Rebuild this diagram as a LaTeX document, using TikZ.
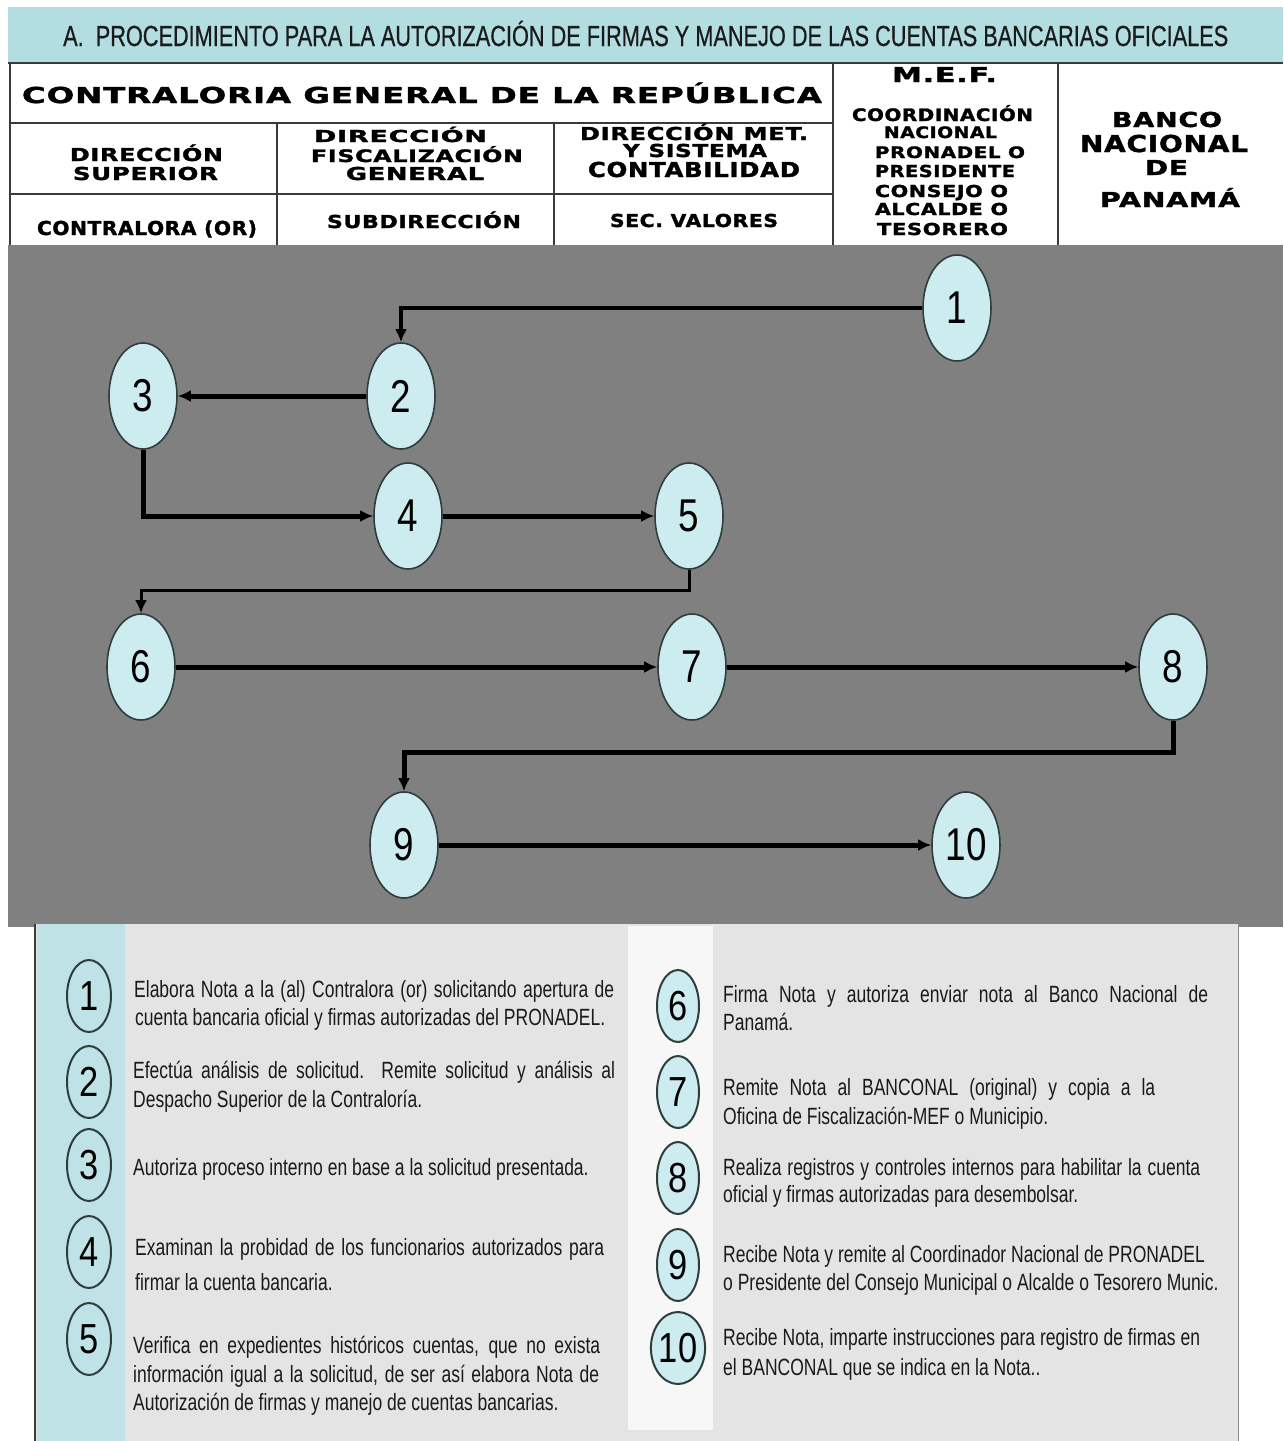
\documentclass[tikz,border=0pt]{standalone}
\usepackage{fontspec}
\usepackage{graphicx}
\setmainfont{Liberation Sans}
\newfontfamily\legfont[FakeStretch=0.745]{Liberation Sans}
\newfontfamily\numfont[FakeStretch=0.8]{Liberation Sans}
\newfontfamily\lnumfont[FakeStretch=0.82]{Liberation Sans}
\newfontfamily\hdrfont[LetterSpace=3,FakeBold=1.6]{DejaVu Sans Bold}
\newfontfamily\titlefont[FakeBold=0.6]{Liberation Sans}
\usetikzlibrary{shapes.geometric,arrows.meta}
\newcommand{\fitbox}[3]{\resizebox{#1}{#2}{\smash{#3}\vphantom{H}}}
\definecolor{bandblue}{HTML}{B2DEE1}
\definecolor{flowgrey}{HTML}{808080}
\definecolor{nodefill}{HTML}{CDECEF}
\definecolor{nodeline}{HTML}{2F3D3D}
\definecolor{panelbg}{HTML}{E4E4E4}
\definecolor{stripblue}{HTML}{BEE2E5}
\definecolor{tblline}{HTML}{3A3A3A}
\definecolor{txt}{HTML}{1A1A1A}
\tikzset{
  tbl/.style={draw=tblline, line width=1.5pt},
  hdr/.style={anchor=base, inner sep=0pt, font=\hdrfont, text=black},
  flownode/.style={ellipse, draw=nodeline, line width=1.6pt, fill=nodefill,
    minimum width=68pt, minimum height=106pt, inner sep=0pt,
    font=\numfont\fontsize{46}{46}\selectfont, text=black},
  conn/.style={draw=black, line width=5pt, -{Latex[length=13pt,width=12pt]}},
  legcirc/.style={ellipse, draw=nodeline, line width=2pt, minimum width=44pt,
    minimum height=72pt, inner sep=0pt, font=\lnumfont\fontsize{42}{42}\selectfont, text=black},
  legcircb/.style={legcirc, fill=nodefill, minimum width=42pt},
  leg/.style={anchor=base west, inner sep=0pt, font=\legfont\fontsize{23.5}{28}\selectfont, text=txt}
}
\begin{document}
\begin{tikzpicture}[x=1pt,y=-1pt]
\useasboundingbox (0,0) rectangle (1283,1441);
\fill[white] (0,0) rectangle (1283,1441);
% title band
\fill[bandblue] (8,7) rectangle (1283,62);
\node[anchor=base west, inner sep=0pt, font=\titlefont\fontsize{28}{28}\selectfont, text=txt] (title) at (63,46)
  {\fitbox{1165pt}{20pt}{A.\ \ PROCEDIMIENTO PARA LA AUTORIZACIÓN DE FIRMAS Y MANEJO DE LAS CUENTAS BANCARIAS OFICIALES}};
% header table
\draw[tbl] (8,63) -- (1283,63);
\draw[tbl] (10,63) -- (10,245);
\draw[tbl] (833,63) -- (833,245);
\draw[tbl] (1058,63) -- (1058,245);
\draw[tbl] (10,123) -- (833,123);
\draw[tbl] (10,194) -- (833,194);
\draw[tbl] (277,123) -- (277,245);
\draw[tbl] (554,123) -- (554,245);
\node[hdr] (hcgr) at (422,103) {\fitbox{800pt}{16pt}{CONTRALORIA GENERAL DE LA REPÚBLICA}};
\node[hdr] (hmef) at (944.5,82) {\fitbox{105pt}{15pt}{M.E.F.}};
\node[hdr] (hm1) at (942.5,121) {\fitbox{181pt}{12.5pt}{COORDINACIÓN}};
\node[hdr] (hm2) at (940.5,138) {\fitbox{113pt}{11.5pt}{NACIONAL}};
\node[hdr] (hm3) at (950,158) {\fitbox{150pt}{11.5pt}{PRONADEL O}};
\node[hdr] (hm4) at (945,177) {\fitbox{140pt}{12pt}{PRESIDENTE}};
\node[hdr] (hm5) at (941.5,197) {\fitbox{133pt}{12pt}{CONSEJO O}};
\node[hdr] (hm6) at (941.5,215) {\fitbox{133pt}{12pt}{ALCALDE O}};
\node[hdr] (hm7) at (942.5,235) {\fitbox{131pt}{12pt}{TESORERO}};
\node[hdr] (hb1) at (1167,127) {\fitbox{110pt}{15pt}{BANCO}};
\node[hdr] (hb2) at (1164,152) {\fitbox{168pt}{17pt}{NACIONAL}};
\node[hdr] (hb3) at (1166.5,175) {\fitbox{43pt}{15pt}{DE}};
\node[hdr] (hb4) at (1170,207) {\fitbox{140pt}{15pt}{PANAMÁ}};
\node[hdr] (hd1) at (146.5,161) {\fitbox{153pt}{13pt}{DIRECCIÓN}};
\node[hdr] (hd2) at (145.5,180) {\fitbox{145pt}{13pt}{SUPERIOR}};
\node[hdr] (hf1) at (400.5,142) {\fitbox{173pt}{12pt}{DIRECCIÓN}};
\node[hdr] (hf2) at (417,162) {\fitbox{212pt}{12.5pt}{FISCALIZACIÓN}};
\node[hdr] (hf3) at (415,180) {\fitbox{138pt}{13pt}{GENERAL}};
\node[hdr] (hs1) at (694,140) {\fitbox{228pt}{13pt}{DIRECCIÓN MET.}};
\node[hdr] (hs2) at (695,157) {\fitbox{144pt}{13pt}{Y SISTEMA}};
\node[hdr] (hs3) at (694,177) {\fitbox{212pt}{15pt}{CONTABILIDAD}};
\node[hdr] (hr1) at (147,235) {\fitbox{220pt}{14pt}{CONTRALORA (OR)}};
\node[hdr] (hr2) at (424,228) {\fitbox{194pt}{13pt}{SUBDIRECCIÓN}};
\node[hdr] (hr3) at (694,227) {\fitbox{168pt}{13pt}{SEC. VALORES}};
% flow area
\fill[flowgrey] (8,245) rectangle (1283,927);
\node[flownode] (n1) at (957,308) {1};
\node[flownode] (n2) at (401,396) {2};
\node[flownode] (n3) at (143,396) {3};
\node[flownode] (n4) at (408,516) {4};
\node[flownode] (n5) at (689,516) {5};
\node[flownode] (n6) at (141,667) {6};
\node[flownode] (n7) at (692,667) {7};
\node[flownode] (n8) at (1173,667) {8};
\node[flownode] (n9) at (404,845) {9};
\node[flownode] (n10) at (966,845) {10};
\coordinate (c56) at (141,590);
\coordinate (c89) at (404,752);
\draw[conn, line width=4pt] (n1.west) -| (n2.north);
\draw[conn] (n2.west) -- (n3.east);
\draw[conn] (n3.south) |- (n4.west);
\draw[conn] (n4.east) -- (n5.west);
\draw[conn, line width=3pt] (n5.south) |- (c56) -- (n6.north);
\draw[conn] (n6.east) -- (n7.west);
\draw[conn] (n7.east) -- (n8.west);
\draw[conn] (n8.south) |- (c89) -- (n9.north);
\draw[conn] (n9.east) -- (n10.west);
% legend panel
\fill[panelbg] (35,924) rectangle (1238,1441);
\fill[stripblue] (37,924) rectangle (125,1441);
\fill[white!97!black] (628,926) rectangle (713,1430);
\draw[draw=tblline, line width=1.5pt] (35,924) -- (35,1441);
\draw[draw=black!45, line width=1pt] (1238,924) -- (1238,1441);
\node[legcirc] (l1) at (89,996) {1};
\node[legcirc] (l2) at (89,1082) {2};
\node[legcirc] (l3) at (89,1165) {3};
\node[legcirc] (l4) at (89,1252) {4};
\node[legcirc] (l5) at (89,1339) {5};
\node[legcircb] (l6) at (678,1006) {6};
\node[legcircb] (l7) at (678,1092) {7};
\node[legcircb] (l8) at (678,1178) {8};
\node[legcircb] (l9) at (678,1265) {9};
\node[legcircb] (l10) at (678,1348) {10};
\node[leg] (t1a) at (134,997) {\makebox[480pt][s]{Elabora Nota a la (al) Contralora (or) solicitando apertura de}};
\node[leg] (t1b) at (135,1025) {cuenta bancaria oficial y firmas autorizadas del PRONADEL.};
\node[leg] (t2a) at (133,1078) {\makebox[482pt][s]{Efectúa análisis de solicitud.\ \ Remite solicitud y análisis al}};
\node[leg] (t2b) at (133,1107) {Despacho Superior de la Contraloría.};
\node[leg] (t3) at (133,1175) {Autoriza proceso interno en base a la solicitud presentada.};
\node[leg] (t4a) at (135,1255) {\makebox[469pt][s]{Examinan la probidad de los funcionarios autorizados para}};
\node[leg] (t4b) at (135,1290) {firmar la cuenta bancaria.};
\node[leg] (t5a) at (133,1353) {\makebox[467pt][s]{Verifica en expedientes históricos cuentas, que no exista}};
\node[leg] (t5b) at (133,1382) {\makebox[466pt][s]{información igual a la solicitud, de ser así elabora Nota de}};
\node[leg] (t5c) at (133,1410) {Autorización de firmas y manejo de cuentas bancarias.};
\node[leg] (t6a) at (723,1002) {\makebox[485pt][s]{Firma Nota y autoriza enviar nota al Banco Nacional de}};
\node[leg] (t6b) at (723,1030) {Panamá.};
\node[leg] (t7a) at (723,1095) {\makebox[432pt][s]{Remite Nota al BANCONAL (original) y copia a la}};
\node[leg] (t7b) at (723,1124) {Oficina de Fiscalización-MEF o Municipio.};
\node[leg] (t8a) at (723,1175) {\makebox[477pt][s]{Realiza registros y controles internos para habilitar la cuenta}};
\node[leg] (t8b) at (723,1202) {oficial y firmas autorizadas para desembolsar.};
\node[leg] (t9a) at (723,1262) {Recibe Nota y remite al Coordinador Nacional de PRONADEL};
\node[leg] (t9b) at (723,1290) {o Presidente del Consejo Municipal o Alcalde o Tesorero Munic.};
\node[leg] (t10a) at (723,1345) {\makebox[477pt][s]{Recibe Nota, imparte instrucciones para registro de firmas en}};
\node[leg] (t10b) at (723,1375) {el BANCONAL que se indica en la Nota..};
\end{tikzpicture}
\end{document}
